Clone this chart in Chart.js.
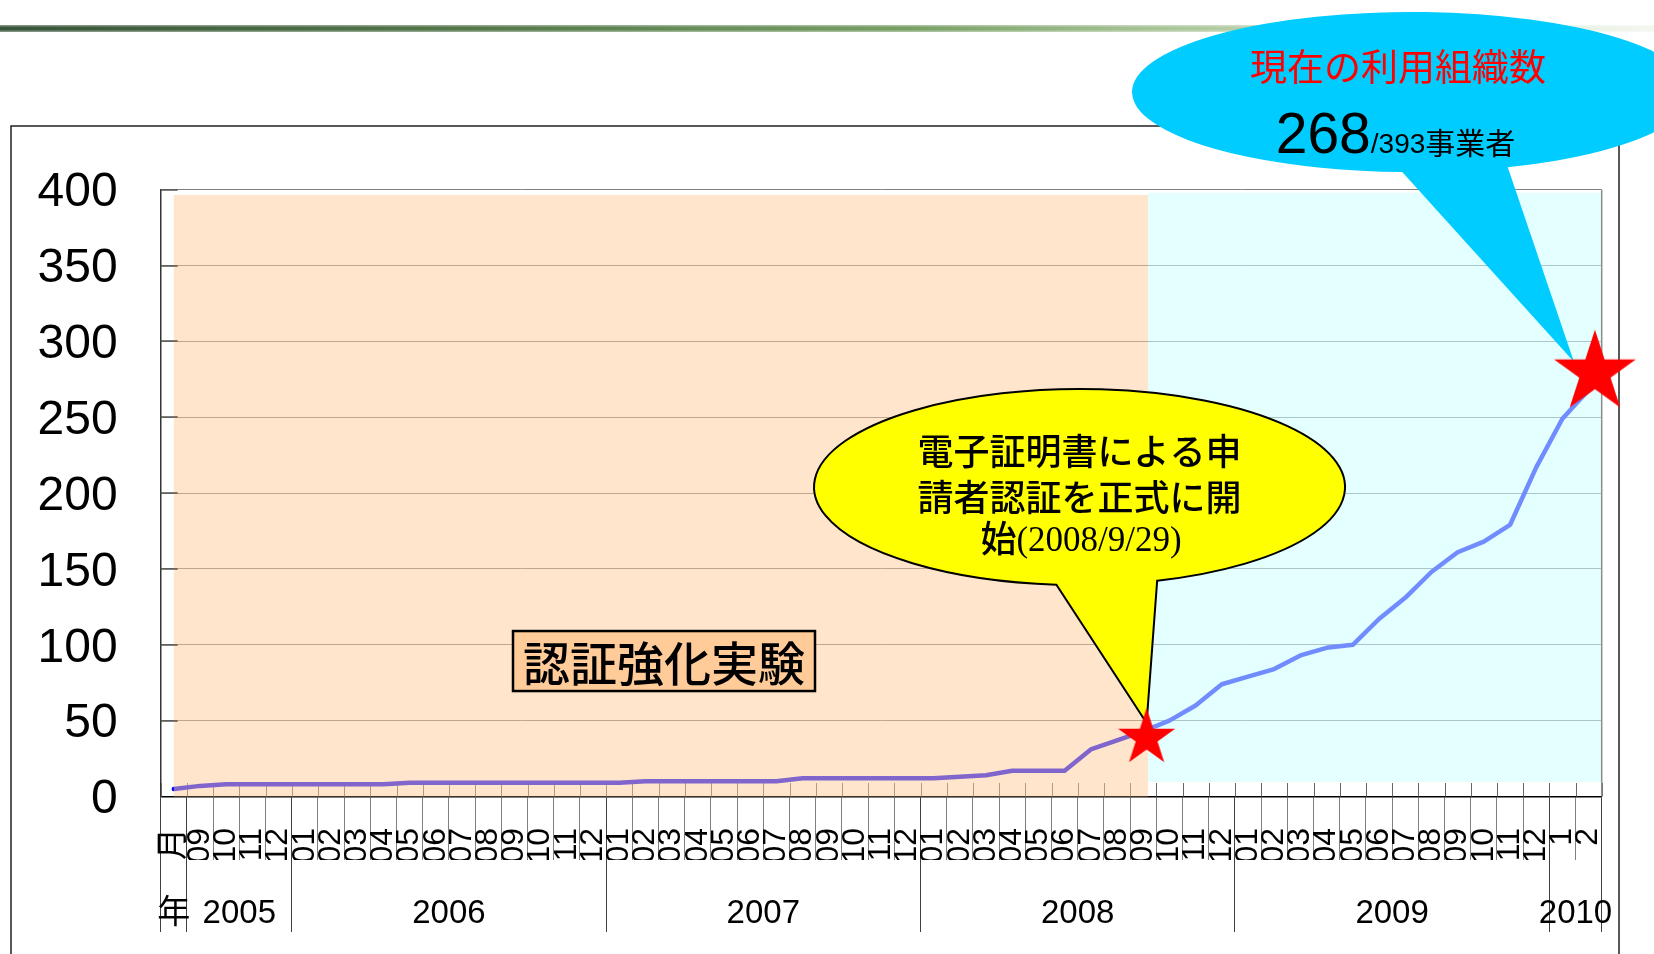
<!DOCTYPE html>
<html>
<head>
<meta charset="utf-8">
<script src="https://cdn.jsdelivr.net/npm/chart.js@4.4.1/dist/chart.umd.min.js"></script>
<style>
html,body{margin:0;padding:0;background:#fff;}
canvas{display:block;}
</style>
</head>
<body>
<canvas id="c" width="1654" height="954"></canvas>
<script>
// ---------------- data ----------------
const monthLabels = ['月','09','10','11','12',
  '01','02','03','04','05','06','07','08','09','10','11','12',
  '01','02','03','04','05','06','07','08','09','10','11','12',
  '01','02','03','04','05','06','07','08','09','10','11','12',
  '01','02','03','04','05','06','07','08','09','10','11','12',
  '1','2'];
const yearLabels   = ['年','2005','2006','2007','2008','2009','2010'];
const yearFirstIdx = [0, 1, 5, 17, 29, 41, 53];
const yearLastIdx  = [0, 4, 16, 28, 40, 52, 54];

const organizations = [5,7,8,8,8,8,8,8,8,
  9,9,9,9,9,9,9,9,9,
  10,10,10,10,10,10,
  12,12,12,12,12,12,
  13,14,17,17,17,
  31,37,43,
  50,60,74,
  79,84,93,98,100,117,131,148,161,168,179,
  217,249,268];

// star markers (x in category-index units)
const starX = [37.13, 54.24];
const starY = [38.6, 279.4];

// phase bands (data units)
const bandStart  = [0, 37.18];
const bandEnd    = [37.18, 54.5];
const bandTop    = [396.5, 398];
const bandBottom = [0, 9.6];

const phaseLabel = '認証強化実験';
const startNote  = ['電子証明書による申', '請者認証を正式に開'];
const startNoteLast = ['始', '(2008/9/29)'];
const currentTitle = '現在の利用組織数';
const currentCount = '268';
const currentTotal = '/393';
const currentUnit  = '事業者';

const yTickStep = 50;

// ---------------- helpers ----------------
const LAT = "'Liberation Sans', Arial, 'Noto Sans CJK JP', sans-serif";
const CJK = "'Noto Sans CJK JP', 'Noto Sans CJK SC', sans-serif";

function makeStar(R, color) {
  const c = document.createElement('canvas');
  const s = Math.ceil(2 * R + 4);
  c.width = s; c.height = s;
  const g = c.getContext('2d');
  g.translate(s / 2, s / 2);
  g.beginPath();
  for (let k = 0; k < 10; k++) {
    const r = k % 2 ? R * 0.382 : R;
    const a = -Math.PI / 2 + k * Math.PI / 5;
    g.lineTo(r * Math.cos(a), r * Math.sin(a));
  }
  g.closePath();
  g.fillStyle = color;
  g.fill();
  return c;
}
const starImgs = [makeStar(30, '#ff0000'), makeStar(43, '#ff0000')];

const yearBoundaries = [yearFirstIdx[0] - 0.5].concat(yearLastIdx.map(v => v + 0.5));
const yearCenters = yearFirstIdx.map((f, i) => (f + yearLastIdx[i]) / 2);
const yearTickValues = yearBoundaries.concat(yearCenters).sort((a, b) => a - b);
function isBoundary(v) { return yearBoundaries.some(b => Math.abs(b - v) < 1e-6); }
function yearLabelFor(v) {
  const i = yearCenters.findIndex(c => Math.abs(c - v) < 1e-6);
  return i >= 0 ? yearLabels[i] : '';
}
const monthYearLineIdx = yearBoundaries.map(b => b + 0.5);

function calloutPath(ctx, cx, cy, rx, ry, a1, a2, tx, ty) {
  ctx.beginPath();
  ctx.ellipse(cx, cy, rx, ry, 0, a1 * Math.PI / 180, a2 * Math.PI / 180, true);
  ctx.lineTo(tx, ty);
  ctx.closePath();
}

// ---------------- decoration plugin ----------------
const deco = {
  id: 'deco',
  beforeDraw(chart) {
    const ctx = chart.ctx;
    ctx.save();
    const g = ctx.createLinearGradient(0, 0, 1654, 0);
    g.addColorStop(0, '#3a553a');
    g.addColorStop(0.3, '#567a4c');
    g.addColorStop(0.55, '#78a066');
    g.addColorStop(0.7, '#a9c598');
    g.addColorStop(0.88, '#d9e7d1');
    g.addColorStop(1, '#f3f7f0');
    ctx.fillStyle = g;
    ctx.fillRect(0, 25, 1654, 7);
    ctx.fillStyle = 'rgba(255,255,255,0.35)';
    ctx.fillRect(0, 25, 1654, 1.5);
    ctx.fillRect(0, 30.5, 1654, 1.5);
    ctx.strokeStyle = '#222';
    ctx.lineWidth = 1.5;
    ctx.strokeRect(11, 126, 1608, 900);
    ctx.restore();
  },
  beforeDatasetsDraw(chart) {
    const x = chart.scales.x, y = chart.scales.y, ctx = chart.ctx;
    ctx.save();
    ctx.strokeStyle = '#666';
    ctx.lineWidth = 1;
    const yb = y.getPixelForValue(0);
    for (let i = 0; i <= monthLabels.length; i++) {
      const px = Math.round(x.getPixelForValue(i - 0.5)) + 0.5;
      ctx.beginPath();
      ctx.moveTo(px, yb - 13.5);
      ctx.lineTo(px, yb);
      ctx.stroke();
    }
    ctx.restore();
  },
  afterDatasetDraw(chart, args) {
    if (args.index !== 0) return;
    const ctx = chart.ctx, xs = chart.scales.xs, y = chart.scales.y, area = chart.chartArea;
    ctx.save();
    // translucent phase bands
    const bandColors = ['rgba(255,204,153,0.5)', 'rgba(204,255,255,0.55)'];
    for (let i = 0; i < bandStart.length; i++) {
      const x0 = xs.getPixelForValue(bandStart[i]), x1 = xs.getPixelForValue(bandEnd[i]);
      const y0 = y.getPixelForValue(bandTop[i]), y1 = y.getPixelForValue(bandBottom[i]);
      ctx.fillStyle = bandColors[i];
      ctx.fillRect(x0, y0, x1 - x0, y1 - y0);
    }
    // inner y tick marks
    ctx.strokeStyle = '#555';
    ctx.lineWidth = 1.5;
    for (let v = yTickStep; v <= 400; v += yTickStep) {
      const py = Math.round(y.getPixelForValue(v));
      ctx.beginPath(); ctx.moveTo(area.left, py); ctx.lineTo(area.left + 17, py); ctx.stroke();
    }
    // right border
    ctx.strokeStyle = '#8c8c8c';
    ctx.beginPath(); ctx.moveTo(area.right, area.top); ctx.lineTo(area.right, area.bottom); ctx.stroke();

    // phase label box
    const bx = xs.getPixelForValue(18.71), by = y.getPixelForValue(89.3);
    ctx.fillStyle = '#ffcc99';
    ctx.fillRect(bx - 151, by - 30, 302, 60);
    ctx.strokeStyle = '#000'; ctx.lineWidth = 2.5;
    ctx.strokeRect(bx - 151, by - 30, 302, 60);
    ctx.fillStyle = '#000';
    ctx.font = '500 47px ' + CJK;
    ctx.textAlign = 'center'; ctx.textBaseline = 'middle';
    ctx.fillText(phaseLabel, bx, by + 2);

    const s1x = xs.getPixelForValue(starX[0]), s1y = y.getPixelForValue(starY[0]);
    const s2x = xs.getPixelForValue(starX[1]), s2y = y.getPixelForValue(starY[1]);

    // yellow callout
    const ycx = xs.getPixelForValue(34.57), ycy = y.getPixelForValue(204);
    calloutPath(ctx, ycx, ycy, 265.5, 98, 73, 95, s1x, s1y - 15);
    ctx.fillStyle = '#ffff00'; ctx.fill();
    ctx.strokeStyle = '#000'; ctx.lineWidth = 2; ctx.stroke();
    ctx.fillStyle = '#000';
    ctx.font = '500 36px ' + CJK;
    ctx.textAlign = 'center'; ctx.textBaseline = 'middle';
    ctx.fillText(startNote[0], ycx, ycy - 35.5);
    ctx.fillText(startNote[1], ycx, ycy + 10);
    ctx.textAlign = 'left';
    const f1 = '500 36px ' + CJK, f2 = "35px 'Liberation Serif', 'Times New Roman', serif";
    ctx.font = f1; const w1 = ctx.measureText(startNoteLast[0]).width;
    ctx.font = f2; const w2 = ctx.measureText(startNoteLast[1]).width;
    let lx = ycx + 1.5 - (w1 + w2) / 2;
    ctx.textBaseline = 'alphabetic';
    ctx.font = f1; ctx.fillText(startNoteLast[0], lx, ycy + 65);
    ctx.font = f2; ctx.fillText(startNoteLast[1], lx + w1, ycy + 64);

    // cyan callout
    const ccx = xs.getPixelForValue(47.26), ccy = y.getPixelForValue(464.4);
    calloutPath(ctx, ccx, ccy, 280, 80, 70, 92, s2x - 21, s2y - 11);
    ctx.fillStyle = '#00ccff'; ctx.fill();
    ctx.fillStyle = '#ff0000';
    ctx.font = '37px ' + CJK;
    ctx.textAlign = 'center'; ctx.textBaseline = 'middle';
    ctx.fillText(currentTitle, ccx - 14, ccy - 25.5);
    ctx.textAlign = 'left'; ctx.textBaseline = 'alphabetic';
    const fa = '57px ' + LAT, fb = '28px ' + LAT, fc = '30px ' + CJK;
    ctx.font = fa; const wa = ctx.measureText(currentCount).width;
    ctx.font = fb; const wb = ctx.measureText(currentTotal).width;
    ctx.font = fc; const wc = ctx.measureText(currentUnit).width;
    let tx = ccx - 16.5 - (wa + wb + wc) / 2;
    const base = ccy + 61;
    ctx.fillStyle = '#000';
    ctx.font = fa; ctx.fillText(currentCount, tx, base);
    ctx.font = fb; ctx.fillText(currentTotal, tx + wa, base);
    ctx.font = fc; ctx.fillText(currentUnit, tx + wa + wb, base + 1);
    ctx.restore();
  }
};

// ---------------- chart ----------------
new Chart(document.getElementById('c'), {
  type: 'line',
  data: {
    labels: monthLabels,
    datasets: [{
      label: '利用組織数',
      data: organizations,
      borderColor: '#0000ff',
      borderWidth: 4.5,
      borderCapStyle: 'round',
      borderJoinStyle: 'round',
      pointRadius: 0,
      tension: 0,
      fill: false,
      order: 2
    }, {
      type: 'scatter',
      label: 'stars',
      xAxisID: 'xs',
      data: starX.map((v, i) => ({ x: v, y: starY[i] })),
      pointStyle: starImgs,
      pointRadius: 20,
      showLine: false,
      clip: false,
      order: 1
    }]
  },
  options: {
    responsive: false,
    animation: false,
    events: [],
    devicePixelRatio: 1,
    layout: { padding: { left: 0, right: 52.3, top: 189.7, bottom: 22 } },
    plugins: { legend: { display: false }, tooltip: { enabled: false } },
    scales: {
      x: {
        type: 'category',
        offset: true,
        weight: 0,
        grid: {
          offset: true, drawOnChartArea: false, drawTicks: true, tickLength: 63.5, lineWidth: 1,
          color: (c) => (c.index === undefined || monthYearLineIdx.includes(c.index)) ? '#404040' : '#808080'
        },
        border: { color: '#000', width: 1.5 },
        ticks: {
          autoSkip: false, maxRotation: 90, minRotation: 90, padding: -32,
          color: '#000', font: { size: 32, family: LAT }
        },
        afterFit(s) { s.height = 63.5; }
      },
      x2: {
        type: 'linear',
        position: 'bottom',
        weight: 1,
        min: -0.5, max: 54.5,
        afterBuildTicks(s) { s.ticks = yearTickValues.map(v => ({ value: v })); },
        grid: {
          drawOnChartArea: false, drawTicks: true, tickLength: 72, lineWidth: 1,
          color: (c) => (c.tick && isBoundary(c.tick.value)) ? '#404040' : 'rgba(0,0,0,0)'
        },
        border: { display: false },
        ticks: {
          autoSkip: false, maxRotation: 0, minRotation: 0, padding: -38,
          color: '#000', font: { size: 33, family: LAT },
          callback: (v) => yearLabelFor(v)
        },
        afterFit(s) { s.height = 72; }
      },
      xs: { type: 'linear', display: false, min: -0.5, max: 54.5 },
      y: {
        min: 0, max: 400,
        ticks: { stepSize: yTickStep, padding: 43, labelOffset: 3.5, color: '#000', font: { size: 48, family: LAT } },
        grid: { color: '#808080', lineWidth: 1, drawTicks: false },
        border: { color: '#333', width: 1.5 },
        afterFit(s) { s.width = 160.7; }
      }
    }
  },
  plugins: [deco]
});
</script>
</body>
</html>
